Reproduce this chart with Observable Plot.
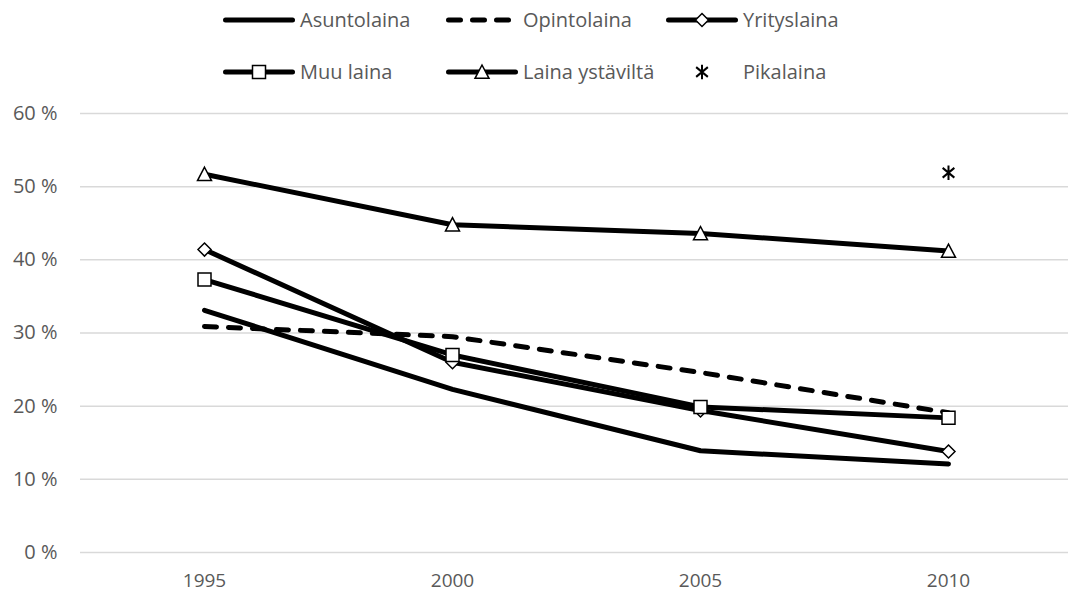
<!DOCTYPE html>
<html>
<head>
<meta charset="utf-8">
<script src="https://cdn.jsdelivr.net/npm/d3@7"></script>
<script src="https://cdn.jsdelivr.net/npm/@observablehq/plot@0.6"></script>
<style>
  html, body { margin: 0; padding: 0; background: #fff; }
  #wrap { position: relative; width: 1068px; height: 594px; overflow: hidden; font-family: "Open Sans", sans-serif; }
  #legend { position: absolute; left: 0; top: 0; }
  #chart { position: absolute; left: 0; top: 90px; }
</style>
</head>
<body>
<div id="wrap">
  <svg id="legend" width="1068" height="90"></svg>
  <div id="chart"></div>
</div>
<script>
// Loan types by survey year, share of respondents (%)
const years = ["1995", "2000", "2005", "2010"];
const seriesNames = ["Asuntolaina", "Opintolaina", "Yrityslaina", "Muu laina", "Laina ystäviltä", "Pikalaina"];
const asuntolaina    = [33.1, 22.3, 13.9, 12.1];
const opintolaina    = [30.9, 29.5, 24.6, 19.1];
const yrityslaina    = [41.4, 26.0, 19.4, 13.8];
const muuLaina       = [37.3, 27.0, 19.9, 18.4];
const lainaYstavilta = [51.7, 44.8, 43.6, 41.2];
const pikalaina      = [null, null, null, 51.9];
const yTicks = [0, 10, 20, 30, 40, 50, 60];

// Marker shapes drawn as custom symbols (size = π r²)
const rOf = size => Math.sqrt(size / Math.PI);
const squareSym = { draw(ctx, size) { const r = rOf(size); ctx.rect(-r, -r, 2 * r, 2 * r); } };
const diamondSym = { draw(ctx, size) { const r = rOf(size); ctx.moveTo(0, -r); ctx.lineTo(r, 0); ctx.lineTo(0, r); ctx.lineTo(-r, 0); ctx.closePath(); } };
const triangleSym = { draw(ctx, size) { const r = rOf(size); ctx.moveTo(0, -r); ctx.lineTo(r, r * 0.9); ctx.lineTo(-r, r * 0.9); ctx.closePath(); } };
const starSym = { draw(ctx, size) {
  const r = rOf(size);
  ctx.moveTo(0, -r * 1.1); ctx.lineTo(0, r * 1.1);
  ctx.moveTo(-r * 0.9, -r * 0.75); ctx.lineTo(r * 0.9, r * 0.75);
  ctx.moveTo(-r * 0.9, r * 0.75); ctx.lineTo(r * 0.9, -r * 0.75);
} };

const seriesValues = [asuntolaina, opintolaina, yrityslaina, muuLaina, lainaYstavilta, pikalaina];
const seriesStyle = [
  { line: true, dash: null, symbol: null },
  { line: true, dash: "12,12", symbol: null },
  { line: true, dash: null, symbol: diamondSym, r: 6.5 },
  { line: true, dash: null, symbol: squareSym, r: 6.5 },
  { line: true, dash: null, symbol: triangleSym, r: 7 },
  { line: false, dash: null, symbol: starSym, r: 6.5, star: true }
];

const rows = seriesNames.map((name, k) =>
  years.map((year, i) => ({ series: name, year, value: seriesValues[k][i] }))
    .filter(d => d.value != null)
);

const marks = [
  Plot.ruleY(yTicks, { stroke: "#d9d9d9", strokeWidth: 1.5 }),
  Plot.axisY({ ticks: yTicks, tickFormat: d => `${d} %`, tickSize: 0, tickPadding: 23, label: null }),
  Plot.axisX({ tickSize: 0, tickPadding: 21, fontSize: 19, label: null })
];
seriesNames.forEach((name, k) => {
  const st = seriesStyle[k];
  if (st.line) {
    marks.push(Plot.line(rows[k], {
      x: "year", y: "value", stroke: "#000", strokeWidth: 5,
      strokeLinecap: "round", strokeLinejoin: "round",
      strokeDasharray: st.dash || undefined
    }));
  }
  if (st.symbol) {
    marks.push(Plot.dot(rows[k], st.star
      ? { x: "year", y: "value", symbol: st.symbol, r: st.r, fill: "none", stroke: "#000", strokeWidth: 2 }
      : { x: "year", y: "value", symbol: st.symbol, r: st.r, fill: "#fff", stroke: "#000", strokeWidth: 1.5 }));
  }
});

const chart = Plot.plot({
  width: 1068,
  height: 504,
  marginTop: 23,
  marginBottom: 42,
  marginLeft: 80,
  marginRight: 0,
  style: { fontFamily: "Open Sans, sans-serif", fontSize: "20px", color: "#595959", background: "#fff" },
  x: { type: "point", domain: years, range: [203.5, 949], padding: 0 },
  y: { domain: [0, 60] },
  marks
});
document.getElementById("chart").append(chart);

// Legend: two rows of three entries
const legend = d3.select("#legend");
const colX = [223, 446, 666];
const rowY = [20, 72];
const sampleLen = 72;
seriesNames.forEach((name, k) => {
  const st = seriesStyle[k];
  const x0 = colX[k % 3], y0 = rowY[Math.floor(k / 3)];
  const g = legend.append("g");
  if (st.line) {
    g.append("line")
      .attr("x1", x0 + 2.5).attr("x2", x0 + sampleLen - 2.5)
      .attr("y1", y0).attr("y2", y0)
      .attr("stroke", "#000").attr("stroke-width", 5)
      .attr("stroke-linecap", "round")
      .attr("stroke-dasharray", st.dash);
  }
  if (st.symbol) {
    g.append("path")
      .attr("transform", `translate(${x0 + sampleLen / 2},${y0})`)
      .attr("d", d3.symbol(st.symbol, Math.PI * st.r * st.r)())
      .attr("fill", st.star ? "none" : "#fff")
      .attr("stroke", "#000")
      .attr("stroke-width", st.star ? 2 : 1.5);
  }
  g.append("text")
    .attr("x", x0 + 77).attr("y", y0)
    .attr("dy", "0.35em")
    .attr("fill", "#595959")
    .attr("font-family", "Open Sans, sans-serif")
    .attr("font-size", 20)
    .text(name);
});
</script>
</body>
</html>
